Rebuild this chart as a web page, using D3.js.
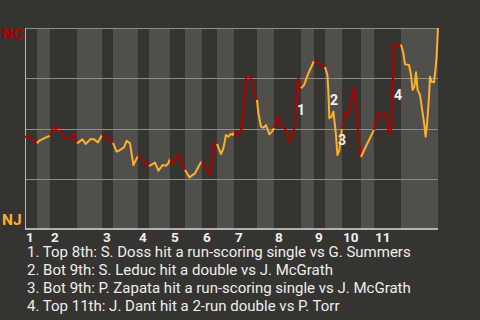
<!DOCTYPE html>
<html>
<head>
<meta charset="utf-8">
<script src="https://cdnjs.cloudflare.com/ajax/libs/d3/7.8.5/d3.min.js"></script>
<style>
  html, body { margin: 0; padding: 0; background: #363431; }
  svg { display: block; font-family: Roboto, "Noto Sans", sans-serif; }
</style>
</head>
<body>
<div id="chart"></div>
<script>
// Win probability for NC (top team), by play index through the game
const innings = [1, 2, 3, 4, 5, 6, 7, 8, 9, 10, 11];
// start of each half inning (top 1, bot 1, top 2, ...) in play index
const halfStarts = [0, 6, 12.5, 26, 38.5, 44, 56.5, 62, 72.5, 80, 88.5, 96,
                    104.5, 116, 124.5, 138, 144.5, 150, 158.5, 168, 174.5, 188];
const gameEnd = 206.5;
const winProb = [
  [0, 45.9], [2, 45.8], [6, 42.6],
  [7, 43.8], [9.5, 45.1], [12.5, 46.5],
  [14.5, 51.4], [15.7, 48.9], [18.3, 48.8], [19.5, 45.4], [22, 44.8], [23.2, 45.4], [24.5, 47.1], [26, 42.6],
  [28.7, 44.6], [30.3, 42.3], [32.8, 44.8], [34.5, 44.6], [36.5, 43.1], [38.5, 46.8],
  [40, 46.0], [42, 44.8], [44, 42.8],
  [45.8, 38.5], [47, 39.0], [49.5, 40.6], [50.8, 43.9], [52.5, 42.6], [54.2, 31.8], [55, 33.5], [56.5, 36.3],
  [59.2, 34.0], [62, 31.3],
  [65, 33.0], [66.7, 29.0], [68.8, 31.8], [70.5, 31.5], [71.7, 32.7], [72.5, 35.2],
  [73.8, 32.7], [76.7, 37.3], [78.7, 31.8], [80, 29.4],
  [82.2, 25.7], [85, 27.7], [87.8, 33.0], [88.5, 33.3],
  [90, 31.0], [92.5, 27.4], [93.3, 33.0], [94.2, 42.6], [96, 42.3],
  [98, 37.3], [99.2, 40.1], [100.5, 46.8], [101.7, 45.9], [102.8, 47.3], [103.8, 46.8], [104.5, 48.3],
  [106.7, 45.9], [108.3, 50.1], [109.2, 60.0], [110.5, 75.3], [112.5, 76.3], [113.8, 70.8], [116, 64.2],
  [116.7, 57.6], [118, 50.9], [119.2, 50.4], [120.5, 51.7], [122.2, 47.1], [123.8, 48.8], [124.5, 50.2],
  [126.2, 56.2], [127.8, 51.7], [129.2, 50.9], [130.8, 48.4], [132.2, 43.8], [133.7, 46.8], [135, 50.9],
  [135.8, 61.7], [136.7, 75.0], [137.5, 71.6], [138, 70.0],
  [139.5, 71.6], [141.7, 77.5], [144.5, 83.6],
  [150, 80.6],
  [151.2, 76.6], [151.7, 68.3], [152.2, 55.1], [153.3, 55.9], [154.2, 58.4], [155.5, 46.8], [156.2, 36.8],
  [157.2, 39.3], [157.8, 45.1], [158.5, 49.8],
  [160.3, 57.6], [162.5, 58.1], [163.3, 64.2], [164.5, 70.0], [165.3, 63.3], [166.3, 51.7], [167, 42.6], [168, 35.8],
  [170.8, 41.8], [174.5, 49.3],
  [176.7, 57.6], [178.3, 56.7], [180, 57.6], [180.8, 55.4], [181.8, 47.8], [183, 48.8], [183.5, 56.7],
  [184.5, 91.5], [185.3, 92.3], [188, 91.8],
  [189.2, 87.4], [190, 81.9], [192, 81.6], [193, 76.6], [193.8, 69.2], [194.7, 70.8], [195.5, 78.0],
  [196.3, 69.2], [197.5, 66.7], [198.7, 58.4], [199.7, 51.7], [200.3, 45.9], [201, 51.7], [202, 65.8],
  [202.5, 75.8], [203.3, 73.3], [204.5, 73.0], [205.3, 79.9], [205.8, 85.7], [206.5, 100]
];
const yTicks = [25, 50, 75, 100];
// key plays: number, label anchor (play index, win prob)
const keyPlays = [
  { n: 1, t: 138, wp: 56.7 },
  { n: 2, t: 154.5, wp: 61.7 },
  { n: 3, t: 158.5, wp: 41.8 },
  { n: 4, t: 186.5, wp: 64.2 }
];
const notes = [
  "1. Top 8th: S. Doss hit a run-scoring single vs G. Summers",
  "2. Bot 9th: S. Leduc hit a double vs J. McGrath",
  "3. Bot 9th: P. Zapata hit a run-scoring single vs J. McGrath",
  "4. Top 11th: J. Dant hit a 2-run double vs P. Torr"
];
const teams = { top: "NC", bottom: "NJ" };

const width = 480, height = 320;
const margin = { top: 28, right: 42, bottom: 91, left: 25 };
const red = "#b00000", gold = "#fbb12c";

const svg = d3.select("#chart").append("svg")
    .attr("width", width)
    .attr("height", height);

const x = d3.scaleLinear()
    .domain([0, gameEnd])
    .range([margin.left, width - margin.right]);

const y = d3.scaleLinear()
    .domain([0, 100])
    .range([height - margin.bottom, margin.top]);

// half-inning stripes
const halves = halfStarts.map((s, i) => ({
    start: s,
    end: i < halfStarts.length - 1 ? halfStarts[i + 1] : gameEnd,
    top: i % 2 === 0
}));

svg.append("g").selectAll("rect")
    .data(halves)
    .enter()
    .append("rect")
    .attr("x", d => x(d.start))
    .attr("width", d => x(d.end) - x(d.start))
    .attr("y", y(100))
    .attr("height", y(0) - y(100))
    .attr("fill", d => d.top ? "#363431" : "#504f4c");

// gridlines
svg.append("g").selectAll("line")
    .data(yTicks)
    .enter()
    .append("line")
    .attr("x1", x(0))
    .attr("x2", x(gameEnd))
    .attr("y1", d => Math.round(y(d)) + 0.5)
    .attr("y2", d => Math.round(y(d)) + 0.5)
    .attr("stroke", "#8c8b88")
    .attr("stroke-width", 1);

// axes
svg.append("line")
    .attr("x1", x(0) + 0.5).attr("x2", x(0) + 0.5)
    .attr("y1", y(100)).attr("y2", y(0))
    .attr("stroke", "#b8b7b4");

svg.append("line")
    .attr("x1", x(0)).attr("x2", x(gameEnd))
    .attr("y1", y(0)).attr("y2", y(0))
    .attr("stroke", "#d8d8d6")
    .attr("stroke-width", 1.5);

// win probability line, colored by half inning
const line = d3.line()
    .x(d => x(d[0]))
    .y(d => y(d[1]));

svg.append("g").selectAll("path")
    .data(halves)
    .enter()
    .append("path")
    .attr("d", h => line(winProb.filter(p => p[0] >= h.start && p[0] <= h.end)))
    .attr("fill", "none")
    .attr("stroke", h => h.top ? red : gold)
    .attr("stroke-width", 2)
    .attr("stroke-linejoin", "round");

// key play markers
svg.append("g").selectAll("text")
    .data(keyPlays)
    .enter()
    .append("text")
    .attr("x", d => x(d.t))
    .attr("y", d => y(d.wp))
    .attr("text-anchor", "middle")
    .style("fill", "#f0f0f0")
    .style("font-size", "14px")
    .style("font-weight", "bold")
    .text(d => d.n);

// inning labels
svg.append("g").selectAll("text")
    .data(innings)
    .enter()
    .append("text")
    .attr("x", (d, i) => x(halfStarts[i * 2]) + 1)
    .attr("y", y(0) + 13)
    .style("fill", "#f0f0f0")
    .style("font-size", "13.5px")
    .style("font-weight", "bold")
    .text(d => d);

// team labels
svg.append("text")
    .attr("x", 2)
    .attr("y", y(100) + 11)
    .style("fill", red)
    .style("font-size", "15.5px")
    .style("font-weight", "bold")
    .text(teams.top);

svg.append("text")
    .attr("x", 2)
    .attr("y", y(0) - 4)
    .style("fill", gold)
    .style("font-size", "15.5px")
    .style("font-weight", "bold")
    .text(teams.bottom);

// notes
svg.append("g").selectAll("text")
    .data(notes)
    .enter()
    .append("text")
    .attr("x", 27)
    .attr("y", (d, i) => y(0) + 28 + i * 18)
    .style("fill", "#eeeeee")
    .style("font-size", "15px")
    .text(d => d);
</script>
</body>
</html>
